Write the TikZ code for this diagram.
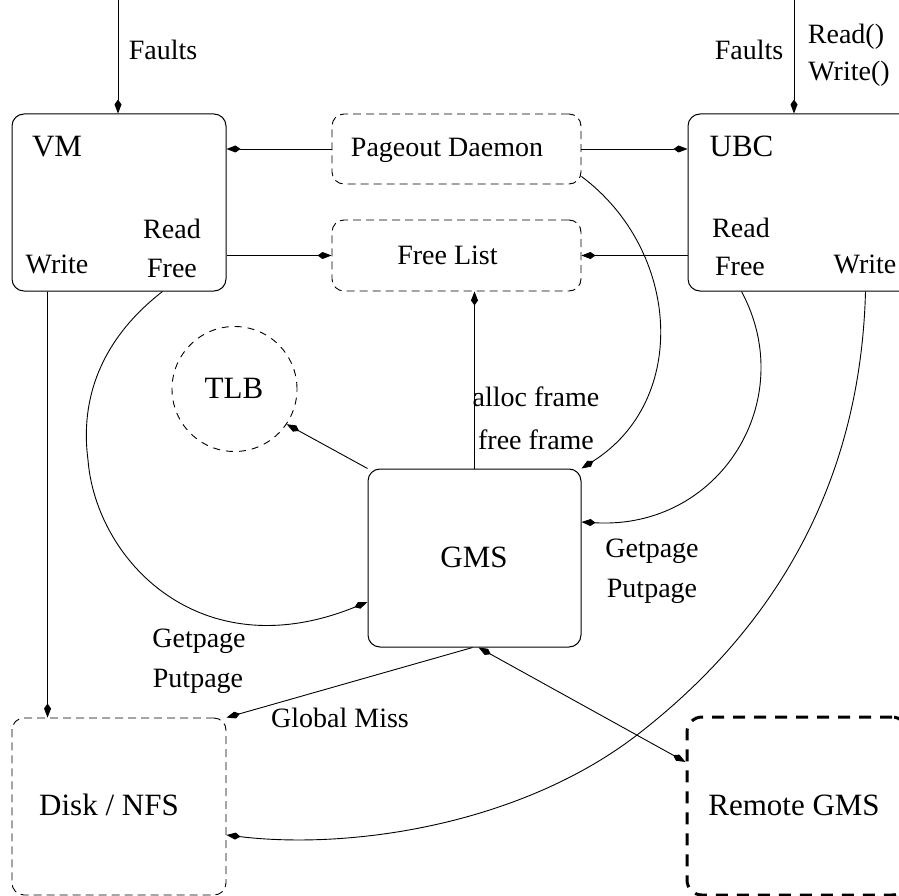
\documentclass[tikz,border=0pt]{standalone}
\usepackage{fontspec}
\setmainfont{Liberation Serif}
\usetikzlibrary{arrows.meta}

\begin{document}
\begin{tikzpicture}[x=1pt,y=-1pt,
  >={Kite[length=14pt,width=7pt,inset=5pt]},
  box/.style={draw, line width=1pt, rounded corners=12pt, inner sep=0pt},
  dbox/.style={box, line width=0.9pt, dash pattern=on 8pt off 5pt},
  lbl/.style={font=\fontsize{28}{30}\selectfont, anchor=base, inner sep=0pt},
  ttl/.style={font=\fontsize{31}{33}\selectfont, anchor=base, inner sep=0pt},
  conn/.style={line width=0.9pt, ->},
]
\useasboundingbox (0,0) rectangle (899,896);
\clip (0,0) rectangle (899,896);

% boxes (UBC and Remote GMS run past the right edge)
\node[box, minimum width=214pt, minimum height=177pt] (vm) at (119,202.5) {};
\node[box, minimum width=227pt, minimum height=177pt] (ubc) at (801.5,202.5) {};
\node[dbox, minimum width=249pt, minimum height=70pt] (pd) at (456.5,149) {};
\node[dbox, minimum width=249pt, minimum height=71pt] (fl) at (456.5,255.5) {};
\node[box, minimum width=213pt, minimum height=178pt] (gms) at (474.5,558) {};
\node[draw, circle, line width=0.9pt, dash pattern=on 7pt off 6pt, minimum size=125pt, inner sep=0pt] (tlb) at (234.5,389) {};
\node[dbox, minimum width=214pt, minimum height=177pt] (disk) at (119,806.5) {};
\node[box, line width=3pt, rounded corners=15pt, dash pattern=on 12pt off 9pt, minimum width=220pt, minimum height=178pt] (rem) at (797,806) {};

% box titles
\node[ttl] at (57,157) {VM};
\node[ttl] at (741.5,157) {UBC};
\node[lbl] at (447,157) {Pageout Daemon};
\node[lbl] at (447.5,264) {Free List};
\node[ttl] at (474,567) {GMS};
\node[ttl] at (234,398) {TLB};
\node[ttl] at (109,815) {Disk / NFS};
\node[ttl] at (794,815) {Remote GMS};

% labels inside VM and UBC
\node[lbl] at (172,238) {Read};
\node[lbl] at (172,277) {Free};
\node[lbl] at (57,273) {Write};
\node[lbl] at (741,237) {Read};
\node[lbl] at (740,275) {Free};
\node[lbl] at (865,273) {Write};

% connector labels
\node[lbl] at (163,60) {Faults};
\node[lbl] at (749,60) {Faults};
\node[lbl] at (846,44) {Read()};
\node[lbl] at (849,81) {Write()};
\node[lbl] at (536,406) {alloc frame};
\node[lbl] at (536,449) {free frame};
\node[lbl] at (652,557) {Getpage};
\node[lbl] at (652,597) {Putpage};
\node[lbl] at (199,647) {Getpage};
\node[lbl] at (198,687) {Putpage};
\node[lbl] at (340,727) {Global Miss};

% incoming faults
\coordinate (vmin) at (118,0);
\coordinate (ubcin) at (794,0);
\draw[conn] (vmin) -- (vmin |- vm.north);
\draw[conn] (ubcin) -- (ubcin |- ubc.north);

% pageout daemon and free list
\draw[conn] (pd.west) -- (vm.east |- pd.west);
\draw[conn] (pd.east) -- (ubc.west |- pd.east);
\draw[conn] (vm.east |- fl.west) -- (fl.west);
\draw[conn] (ubc.west |- fl.east) -- (fl.east);
\draw[conn] (gms.north) -- (gms.north |- fl.south);
\draw[conn] (gms.north west) -- (tlb.-34);

% curved connectors into GMS
\draw[conn] ([yshift=8pt]pd.south east) .. controls (680,250) and (690,400) .. (gms.north east);
\draw[conn] ([xshift=54pt]ubc.south west) .. controls (800,400) and (720,530) .. ([yshift=36pt]gms.east);
\draw[conn] ([xshift=151pt]vm.south west) .. controls (100,340) and (80,400) .. (88,460)
  .. controls (96,560) and (200,670) .. ([yshift=-44pt]gms.west);

% UBC write-back to disk
\draw[conn] ([xshift=178pt]ubc.south west) .. controls (860,500) and (760,640) .. (637,735)
  .. controls (520,825) and (350,850) .. ([yshift=-28.5pt]disk.east);

% VM write to disk
\draw[conn] ([xshift=36pt]vm.south west) -- ([xshift=36pt]disk.north west);

% global miss and remote GMS
\draw[conn] ([xshift=-2pt]gms.south) -- (disk.north east);
\draw[line width=0.9pt, <->] ([xshift=4pt]gms.south) -- ([yshift=44pt]rem.west);
\end{tikzpicture}
\end{document}
